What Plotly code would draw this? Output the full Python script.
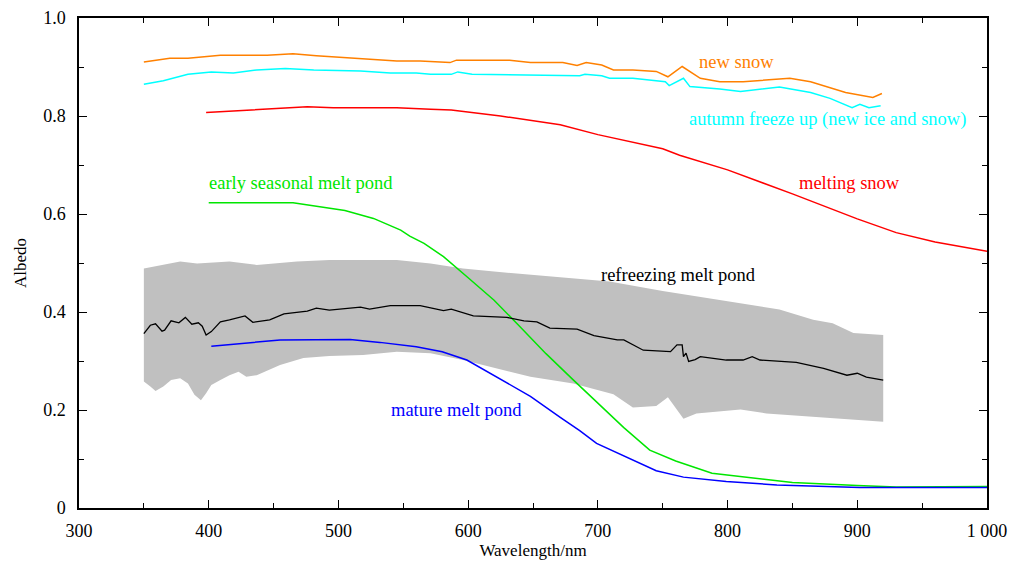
import plotly.graph_objects as go

# ---------------- data ----------------
new_snow_x = [350, 370, 384, 409, 445, 465, 483, 519, 545, 563, 586, 591, 632, 648, 673, 684, 691, 703, 712, 727, 745, 754, 765, 779, 794, 812, 848, 864, 891, 912, 919]
new_snow_y = [0.910, 0.918, 0.918, 0.924, 0.924, 0.927, 0.923, 0.916, 0.912, 0.912, 0.909, 0.914, 0.914, 0.909, 0.909, 0.903, 0.909, 0.904, 0.894, 0.894, 0.891, 0.880, 0.901, 0.877, 0.870, 0.870, 0.877, 0.870, 0.848, 0.838, 0.846]

autumn_x = [350, 365, 384, 402, 419, 437, 459, 481, 517, 540, 560, 571, 587, 592, 603, 686, 690, 703, 709, 727, 752, 755, 766, 771, 794, 810, 840, 864, 879, 896, 902, 909, 918]
autumn_y = [0.865, 0.872, 0.885, 0.890, 0.888, 0.894, 0.897, 0.894, 0.892, 0.888, 0.888, 0.885, 0.885, 0.890, 0.885, 0.882, 0.885, 0.882, 0.877, 0.877, 0.870, 0.862, 0.877, 0.860, 0.855, 0.850, 0.859, 0.848, 0.836, 0.817, 0.824, 0.817, 0.821]

melting_x = [398, 434, 457, 476, 496, 545, 571, 587, 625, 671, 700, 750, 763, 800, 850, 900, 930, 960, 1000]
melting_y = [0.807, 0.812, 0.816, 0.819, 0.817, 0.817, 0.814, 0.812, 0.800, 0.782, 0.762, 0.733, 0.720, 0.690, 0.641, 0.590, 0.562, 0.543, 0.524]

early_x = [400, 465, 505, 527, 548, 555, 566, 581, 600, 620, 640, 660, 680, 700, 720, 740, 760, 788, 850, 900, 930, 1000]
early_y = [0.623, 0.623, 0.607, 0.591, 0.567, 0.555, 0.540, 0.513, 0.470, 0.424, 0.370, 0.315, 0.264, 0.214, 0.164, 0.118, 0.096, 0.071, 0.052, 0.046, 0.043, 0.044]

mature_x = [402, 455, 509, 532, 560, 580, 599, 648, 671, 686, 699, 717, 745, 766, 799, 838, 902, 1000]
mature_y = [0.330, 0.343, 0.344, 0.338, 0.329, 0.319, 0.302, 0.228, 0.185, 0.158, 0.132, 0.110, 0.076, 0.063, 0.054, 0.047, 0.042, 0.042]

refreeze_x = [350, 355, 359, 364, 366, 371, 377, 382, 387, 392, 395, 398, 402, 409, 416, 428, 434, 447, 458, 476, 483, 493, 517, 524, 540, 563, 581, 587, 604, 630, 643, 653, 663, 684, 697, 715, 720, 735, 756, 761, 765, 766, 768, 770, 775, 779, 799, 812, 819, 825, 853, 874, 892, 900, 907, 920]
refreeze_y = [0.356, 0.373, 0.376, 0.361, 0.363, 0.382, 0.378, 0.389, 0.375, 0.378, 0.371, 0.353, 0.360, 0.380, 0.384, 0.392, 0.379, 0.384, 0.396, 0.402, 0.408, 0.404, 0.410, 0.406, 0.413, 0.413, 0.403, 0.406, 0.392, 0.389, 0.382, 0.380, 0.367, 0.365, 0.352, 0.343, 0.343, 0.322, 0.319, 0.333, 0.333, 0.309, 0.316, 0.299, 0.303, 0.309, 0.302, 0.302, 0.309, 0.302, 0.297, 0.285, 0.271, 0.275, 0.267, 0.261]

band_upper_x = [350, 365, 378, 391, 416, 437, 468, 493, 545, 571, 596, 622, 648, 679, 709, 750, 800, 840, 866, 881, 897, 920]
band_upper_y = [0.489, 0.496, 0.503, 0.499, 0.503, 0.496, 0.503, 0.506, 0.506, 0.499, 0.489, 0.482, 0.476, 0.469, 0.462, 0.443, 0.422, 0.405, 0.384, 0.377, 0.357, 0.353]

band_lower_x = [350, 355, 359, 365, 371, 378, 384, 389, 394, 398, 402, 409, 416, 423, 429, 437, 455, 473, 493, 519, 545, 571, 596, 622, 648, 681, 700, 712, 727, 745, 754, 761, 766, 776, 810, 830, 866, 920]
band_lower_y = [0.258, 0.248, 0.239, 0.248, 0.261, 0.265, 0.254, 0.231, 0.220, 0.234, 0.251, 0.261, 0.271, 0.278, 0.268, 0.271, 0.292, 0.306, 0.310, 0.312, 0.319, 0.316, 0.302, 0.285, 0.268, 0.254, 0.240, 0.232, 0.205, 0.208, 0.226, 0.200, 0.182, 0.193, 0.201, 0.193, 0.186, 0.176]

x_tickvals = [300, 400, 500, 600, 700, 800, 900, 1000]
x_ticktext = ["300", "400", "500", "600", "700", "800", "900", "1 000"]
y_tickvals = [0, 0.2, 0.4, 0.6, 0.8, 1.0]
y_ticktext = ["0", "0.2", "0.4", "0.6", "0.8", "1.0"]

labels = [
    ("new snow", 807, 0.910, "#ff8000"),
    ("autumn freeze up (new ice and snow)", 877, 0.792, "#00ffff"),
    ("melting snow", 894, 0.663, "#ff0000"),
    ("early seasonal melt pond", 471, 0.663, "#00e600"),
    ("refreezing melt pond", 762, 0.476, "#000000"),
    ("mature melt pond", 591, 0.200, "#0000ff"),
]

FONT = "Liberation Serif, Times New Roman, serif"

fig = go.Figure()

# gray band
fig.add_trace(go.Scatter(
    x=band_upper_x + band_lower_x[::-1],
    y=band_upper_y + band_lower_y[::-1],
    fill="toself", fillcolor="#c0c0c0", line=dict(width=0),
    mode="lines", hoverinfo="skip", showlegend=False))

series = [
    (new_snow_x, new_snow_y, "#ff8000", 1.5),
    (autumn_x, autumn_y, "#00ffff", 1.5),
    (melting_x, melting_y, "#ff0000", 1.5),
    (early_x, early_y, "#00e600", 1.5),
    (mature_x, mature_y, "#0000ff", 1.5),
    (refreeze_x, refreeze_y, "#000000", 1.3),
]
for xs, ys, c, w in series:
    fig.add_trace(go.Scatter(x=xs, y=ys, mode="lines",
                             line=dict(color=c, width=w),
                             showlegend=False))

for text, x, y, c in labels:
    fig.add_annotation(x=x, y=y, text=text, showarrow=False,
                       font=dict(family=FONT, size=18.5, color=c),
                       xanchor="center", yanchor="middle")

axis_common = dict(
    showline=True, linecolor="black", linewidth=1.5, mirror="ticks",
    ticks="inside", ticklen=8, tickwidth=1.2, tickcolor="black",
    showgrid=False, zeroline=False, automargin=False,
    tickfont=dict(family=FONT, size=18, color="black"),
)

fig.update_xaxes(range=[300, 1000], tickvals=x_tickvals, ticktext=x_ticktext,
                 ticklabelstandoff=6,
                 minor=dict(ticks="inside", ticklen=5, tickwidth=1, tickcolor="black", dtick=50, tick0=300),
                 title=dict(text="Wavelength/nm", font=dict(family=FONT, size=17, color="black"), standoff=3),
                 **axis_common)
fig.update_yaxes(range=[0, 1.0], tickvals=y_tickvals, ticktext=y_ticktext,
                 ticklabelstandoff=8,
                 minor=dict(ticks="inside", ticklen=5, tickwidth=1, tickcolor="black", dtick=0.1, tick0=0),
                 title=dict(text="Albedo", font=dict(family=FONT, size=17, color="black"), standoff=12),
                 **axis_common)

fig.update_layout(
    width=1010, height=563,
    margin=dict(l=79, r=23, t=18, b=55),
    plot_bgcolor="white", paper_bgcolor="white",
    font=dict(family=FONT, size=16, color="black"),
)

fig.write_html("out.html")
